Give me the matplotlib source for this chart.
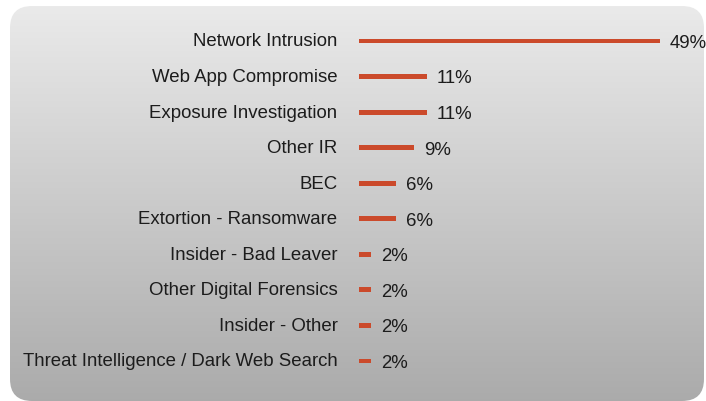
import numpy as np
import matplotlib
matplotlib.use("Agg")
import matplotlib.pyplot as plt
import matplotlib.transforms as mtransforms
from matplotlib.patches import FancyBboxPatch

categories = [
    "Network Intrusion",
    "Web App Compromise",
    "Exposure Investigation",
    "Other IR",
    "BEC",
    "Extortion - Ransomware",
    "Insider - Bad Leaver",
    "Other Digital Forensics",
    "Insider - Other",
    "Threat Intelligence / Dark Web Search",
]
values = [49, 11, 11, 9, 6, 6, 2, 2, 2, 2]

W, H = 706, 402
DPI = 100
BAR_COLOR = "#CB4A2B"
TEXT_COLOR = "#1c1c1c"
FONT = ["Liberation Sans", "DejaVu Sans"]
FS = 13.4

fig = plt.figure(figsize=(W / DPI, H / DPI), dpi=DPI)
fig.patch.set_facecolor("white")

# Background panel: rounded rectangle with vertical grey gradient
bg = fig.add_axes([0, 0, 1, 1])
bg.set_xlim(0, W)
bg.set_ylim(H, 0)
bg.axis("off")
grad = np.linspace(0, 1, 256).reshape(-1, 1)
top = np.array([0.918, 0.918, 0.918])
bot = np.array([0.670, 0.670, 0.670])
img = top + (bot - top) * grad[..., None]
img = np.repeat(img, 2, axis=1)
panel = FancyBboxPatch((10, 7), 694, 395,
                       boxstyle="round,pad=0,rounding_size=22",
                       facecolor="none", edgecolor="none")
bg.add_patch(panel)
im = bg.imshow(img, extent=(10, 704, 402, 7), aspect="auto",
               interpolation="bilinear", zorder=0)
im.set_clip_path(panel)

# Bar chart area
x0_px, x1_px = 359, 660
spacing = (362 - 42) / 9
top_px = 42 - spacing / 2
bot_px = 362 + spacing / 2
ax = fig.add_axes([x0_px / W, 1 - bot_px / H,
                   (x1_px - x0_px) / W, (bot_px - top_px) / H])
ax.patch.set_alpha(0)
ypos = np.arange(len(categories))
ax.barh(ypos, values, height=0.14, color=BAR_COLOR, left=0)
ax.set_xlim(0, max(values))
ax.set_ylim(len(categories) - 0.5, -0.5)
ax.set_yticks(ypos)
ax.set_yticklabels(categories, fontsize=FS, color=TEXT_COLOR, family=FONT)
ax.tick_params(axis="y", length=0, pad=15.5)
ax.set_xticks([])
for s in ax.spines.values():
    s.set_visible(False)

# Category names sit slightly above their bars
lift = mtransforms.ScaledTranslation(0, 2 / DPI, fig.dpi_scale_trans)
for lbl in ax.get_yticklabels():
    lbl.set_transform(lbl.get_transform() + lift)

for y, v in zip(ypos, values):
    ax.annotate(f"{v}%", xy=(v, y), xytext=(7, -1), textcoords="offset points",
                ha="left", va="center", fontsize=FS, color=TEXT_COLOR,
                family=FONT, annotation_clip=False)

fig.savefig("out.png", dpi=DPI)
